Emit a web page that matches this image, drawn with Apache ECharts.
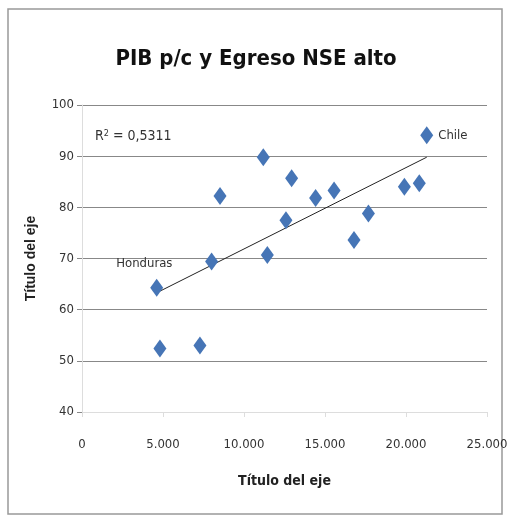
<!DOCTYPE html>
<html>
<head>
<meta charset="utf-8">
<script src="https://cdn.jsdelivr.net/npm/echarts@6/dist/echarts.min.js"></script>
<style>
  html, body { margin: 0; padding: 0; background: #fff; }
  #chart { width: 512px; height: 523px; }
</style>
</head>
<body>
<div id="chart"></div>
<script>
// PIB per capita (x) vs egreso NSE alto (y)
const pibValues = [4610, 4810, 7280, 8000, 8520, 11190, 11440, 12590, 12940, 14420, 15560, 16790, 17680, 19900, 20820, 21280]
const egresoValues = [64.3, 52.4, 53.0, 69.4, 82.2, 89.8, 70.7, 77.5, 85.7, 81.8, 83.3, 73.6, 78.8, 84.0, 84.7, 94.1]
const pointNames = ['Honduras', '', '', '', '', '', '', '', '', '', '', '', '', '', '', 'Chile']
// trend line end points as drawn
const trendX = [4610, 21280]
const trendY = [63.3, 89.8]
const xTicks = [0, 5000, 10000, 15000, 20000, 25000]
const yTicks = [40, 50, 60, 70, 80, 90, 100]

const font = "'Liberation Sans Narrow', 'DejaVu Sans Condensed', sans-serif"

const points = pibValues.map((x, i) => ({
  value: [x, egresoValues[i]],
  name: pointNames[i],
  label: {
    show: pointNames[i] !== '',
    position: i === 0 ? [-34, -22] : 'right',
    formatter: '{b}',
    color: '#333',
    fontFamily: font,
    fontSize: 13
  }
}))

const chart = echarts.init(document.getElementById('chart'))
chart.setOption({
  animation: false,
  title: {
    text: 'PIB p/c y Egreso NSE alto',
    left: 'center',
    top: 43,
    textStyle: { fontFamily: font, fontSize: 22, fontWeight: 'bold', color: '#111' }
  },
  graphic: [
    {
      type: 'rect',
      shape: { x: 8, y: 9, width: 494, height: 505 },
      style: { fill: 'none', stroke: '#999', lineWidth: 1.5 }
    },
    {
      type: 'text',
      left: 95,
      top: 129,
      style: {
        text: '{r|R}{s|2}{r| = 0,5311}',
        rich: {
          r: { fontFamily: font, fontSize: 14, fill: '#333', verticalAlign: 'bottom' },
          s: { fontFamily: font, fontSize: 9, fill: '#333', verticalAlign: 'top' }
        }
      }
    }
  ],
  grid: { left: 82, right: 25, top: 105, bottom: 111 },
  xAxis: {
    type: 'value',
    min: 0,
    max: 25000,
    interval: 5000,
    name: 'Título del eje',
    nameLocation: 'middle',
    nameGap: 62,
    nameTextStyle: { fontFamily: font, fontSize: 14, fontWeight: 'bold', color: '#222' },
    axisLine: { show: true, lineStyle: { color: '#ddd' } },
    axisTick: { show: true, length: 5, lineStyle: { color: '#ddd' } },
    splitLine: { show: false },
    axisLabel: {
      fontFamily: font, fontSize: 13, color: '#333', margin: 26,
      formatter: v => xTicks.includes(v) ? (v === 0 ? '0' : (v / 1000).toFixed(3)) : ''
    }
  },
  yAxis: {
    type: 'value',
    min: 40,
    max: 100,
    interval: 10,
    name: 'Título del eje',
    nameLocation: 'middle',
    nameGap: 44,
    nameTextStyle: { fontFamily: 'Liberation Sans, Arial, sans-serif', fontSize: 14, fontWeight: 'bold', color: '#222' },
    axisLine: { show: true, lineStyle: { color: '#ddd' } },
    axisTick: { show: true, length: 5, lineStyle: { color: '#888' } },
    splitLine: { show: true, lineStyle: { color: '#888', width: 1 } },
    axisLabel: {
      fontFamily: font, fontSize: 13, color: '#333', margin: 8,
      formatter: v => yTicks.includes(v) ? String(v) : ''
    }
  },
  series: [
    {
      type: 'line',
      data: trendX.map((x, i) => [x, trendY[i]]),
      symbol: 'none',
      lineStyle: { color: '#222', width: 1 },
      z: 1
    },
    {
      type: 'scatter',
      data: points,
      symbol: 'diamond',
      symbolSize: [13, 18],
      itemStyle: { color: '#4675b6', opacity: 1 },
      z: 2
    }
  ]
})
</script>
</body>
</html>
